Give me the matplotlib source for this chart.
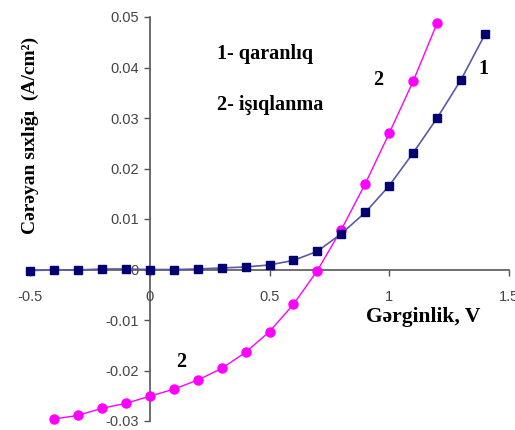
import numpy as np
import matplotlib
matplotlib.use("Agg")
import matplotlib.pyplot as plt

# curve 1 - qaranlıq (dark)
v1 = [-0.5, -0.4, -0.3, -0.2, -0.1, 0.0, 0.1, 0.2, 0.3, 0.4,
      0.5, 0.6, 0.7, 0.8, 0.9, 1.0, 1.1, 1.2, 1.3, 1.4]
j1 = [-0.0002, -0.0001, -0.0001, 0.0001, 0.0001, 0.0, 0.0, 0.0001, 0.0003, 0.0005,
      0.0009, 0.0018, 0.0036, 0.0071, 0.0113, 0.0166, 0.0231, 0.0300, 0.0376, 0.0466]

# curve 2 - işıqlanma (illuminated)
v2 = [-0.4, -0.3, -0.2, -0.1, 0.0, 0.1, 0.2, 0.3, 0.4,
      0.5, 0.6, 0.7, 0.8, 0.9, 1.0, 1.1, 1.2]
j2 = [-0.0296, -0.0289, -0.0275, -0.0265, -0.0251, -0.0237, -0.0219, -0.0196, -0.0164,
      -0.0123, -0.0069, -0.0002, 0.0079, 0.0170, 0.0270, 0.0373, 0.0488]

xticks = [-0.5, 0, 0.5, 1, 1.5]
xticklabels = ["-0.5", "0", "0.5", "1", "1.5"]
yticks = [-0.03, -0.02, -0.01, 0, 0.01, 0.02, 0.03, 0.04, 0.05]
yticklabels = ["-0.03", "-0.02", "-0.01", "0", "0.01", "0.02", "0.03", "0.04", "0.05"]

serif = "Liberation Serif"
sans = "Liberation Sans"

fig = plt.figure(figsize=(5.15, 4.30), dpi=100)
ax = fig.add_axes([30/515, 9/430, 479/515, 404/430])
ax.set_xlim(-0.5, 1.5)
ax.set_ylim(-0.03, 0.05)

ax.plot(v2, j2, "-", color="#ff00ff", lw=1.0, marker="o", ms=6.5,
        mfc="#ff00ff", mec="#ff00ff", zorder=3, clip_on=False)
ax.plot(v1, j1, "-", color="#5a5aa6", lw=1.2, marker="s", ms=5.5,
        mfc="#000070", mec="#000070", zorder=4, clip_on=False)

ax.spines["left"].set_position(("data", 0))
ax.spines["bottom"].set_position(("data", 0))
ax.spines["top"].set_visible(False)
ax.spines["right"].set_visible(False)
for s in ("left", "bottom"):
    ax.spines[s].set_color("#555555")
    ax.spines[s].set_linewidth(1.2)

ax.set_xticks(xticks)
ax.set_xticklabels(xticklabels, fontfamily=sans, fontsize=10.5, color="#444444")
ax.set_yticks(yticks)
ax.set_yticklabels(yticklabels, fontfamily=sans, fontsize=10.5, color="#444444")
ax.tick_params(axis="both", direction="out", length=4, color="#555555", width=1)
ax.tick_params(axis="x", pad=11)
ax.tick_params(axis="y", pad=4)

tb = dict(fontfamily=serif, fontweight="bold", color="black")
ax.text(0.28, 0.0427, "1- qaranlıq", fontsize=14.5, va="center", **tb)
ax.text(0.28, 0.0326, "2- işıqlanma", fontsize=14.5, va="center", **tb)
ax.text(0.955, 0.0376, "2", fontsize=14.5, ha="center", va="center", **tb)
ax.text(1.395, 0.0398, "1", fontsize=14.5, ha="center", va="center", **tb)
ax.text(0.13, -0.0184, "2", fontsize=14.5, ha="center", va="center", **tb)
ax.text(1.140, -0.0095, "Gərginlik, V", fontsize=15.5, ha="center", va="center", **tb)

fig.text(30/515, 1 - 135/430, "Cərəyan sıxlığı  (A/cm²)", rotation=90,
         ha="center", va="center", fontsize=14, **tb)

fig.savefig("out.png", dpi=100)
